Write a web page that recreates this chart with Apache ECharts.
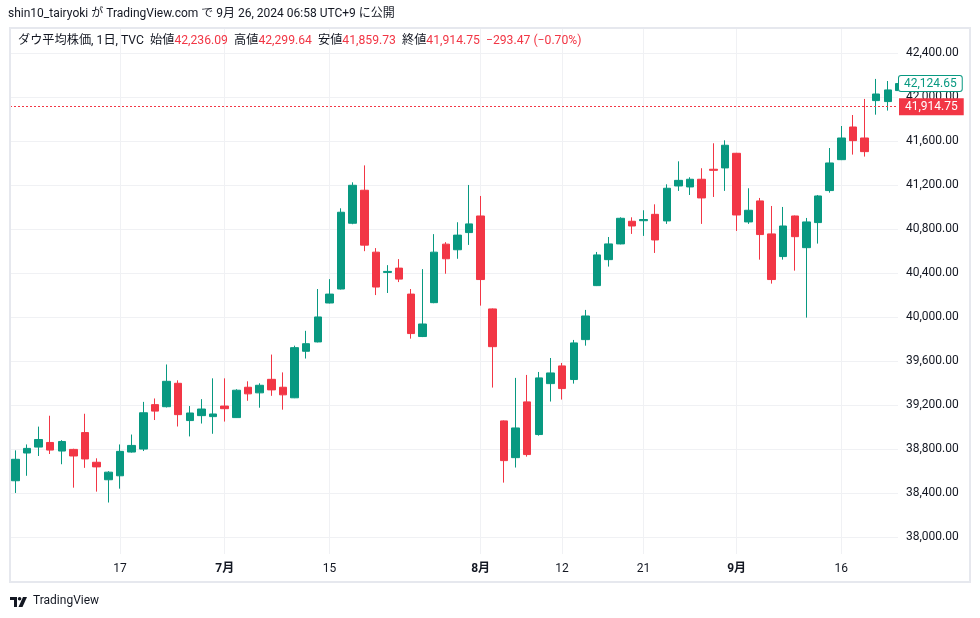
<!DOCTYPE html>
<html><head><meta charset="utf-8">
<script src="https://cdn.jsdelivr.net/npm/echarts@6/dist/echarts.min.js"></script>
<style>html,body{margin:0;padding:0;background:#fff;}#c{width:980px;height:618px;}</style>
</head><body><div id="c"></div>
<script>
// ---- data (Dow Jones Industrial Average, TVC, daily) ----
const dates = [
 '2024-06-04','2024-06-05','2024-06-06','2024-06-07','2024-06-10','2024-06-11','2024-06-12','2024-06-13','2024-06-14',
 '2024-06-17','2024-06-18','2024-06-20','2024-06-21','2024-06-24','2024-06-25','2024-06-26','2024-06-27','2024-06-28',
 '2024-07-01','2024-07-02','2024-07-03','2024-07-05','2024-07-08','2024-07-09','2024-07-10','2024-07-11','2024-07-12',
 '2024-07-15','2024-07-16','2024-07-17','2024-07-18','2024-07-19','2024-07-22','2024-07-23','2024-07-24','2024-07-25',
 '2024-07-26','2024-07-29','2024-07-30','2024-07-31','2024-08-01','2024-08-02','2024-08-05','2024-08-06','2024-08-07',
 '2024-08-08','2024-08-09','2024-08-12','2024-08-13','2024-08-14','2024-08-15','2024-08-16','2024-08-19','2024-08-20',
 '2024-08-21','2024-08-22','2024-08-23','2024-08-26','2024-08-27','2024-08-28','2024-08-29','2024-08-30','2024-09-03',
 '2024-09-04','2024-09-05','2024-09-06','2024-09-09','2024-09-10','2024-09-11','2024-09-12','2024-09-13','2024-09-16',
 '2024-09-17','2024-09-18','2024-09-19','2024-09-20','2024-09-23'
];
const openVals = [
 38514,38766,38820,38862,38784,38799,38952,38682,38523,
 38559,38775,38802,39206,39187,39400,39061,39106,39097,
 39193,39088,39364,39313,39436,39364,39268,39691,39776,
 40130,40257,40855,41155,40592,40408,40447,40211,39825,
 40133,40665,40614,40770,40921,40076,39058,38724,39231,
 38934,39397,39558,39434,39797,40288,40524,40667,40873,
 40878,40936,40876,41194,41185,41255,41346,41358,41491,
 40867,41058,40758,40552,40921,40633,40861,41152,41433,
 41730,41630,41970,41961,42061
];
const highVals = [
 38790,38844,39006,39105,38883,38805,39123,38718,38601,
 38844,38934,39231,39262,39571,39427,39193,39256,39445,
 39445,39346,39418,39400,39661,39499,39742,39877,40257,
 40347,40991,41227,41381,40629,40474,40529,40257,40438,
 40756,40683,40864,41203,41103,40080,39062,39449,39476,
 39503,39630,39585,39794,40067,40594,40730,40909,40909,
 40973,41027,41209,41418,41273,41355,41582,41609,41495,
 41173,41085,41012,41003,40925,40903,41112,41539,41739,
 41839,41985,42167,42148,42203
];
const lowVals = [
 38403,38559,38739,38757,38664,38451,38631,38415,38316,
 38442,38770,38784,39066,39180,39007,38917,39034,38941,
 39052,39085,39241,39178,39286,39160,39265,39625,39772,
 40126,40253,40846,40601,40202,40221,40320,39806,39820,
 40128,40396,40532,40658,40106,39361,38497,38634,38733,
 38924,39234,39252,39397,39742,40284,40461,40663,40758,
 40740,40585,40849,41149,41112,40849,41094,41149,40785,
 40849,40524,40306,40524,40424,39997,40670,41133,41429,
 41479,41461,41842,41879,42035
];
const closeVals = [
 38709,38808,38889,38793,38871,38739,38712,38640,38592,
 38781,38835,39132,39147,39418,39115,39130,39166,39121,
 39169,39337,39304,39382,39340,39295,39724,39760,40003,
 40211,40955,41200,40656,40275,40417,40347,39852,39939,
 40592,40532,40747,40849,40343,39733,38697,38994,38752,
 39449,39494,39352,39767,40012,40567,40667,40900,40830,
 40889,40703,41173,41245,41255,41085,41336,41564,40930,
 40973,40752,40343,40830,40733,40867,41103,41403,41630,
 41606,41506,42030,42067,42124.65
];
const xTickDates  = ['2024-06-17','2024-07-01','2024-07-15','2024-08-01','2024-08-12','2024-08-21','2024-09-03','2024-09-16'];
const xTickLabels = ['17','7月','15','8月','12','21','9月','16'];
const monthLabels = ['7月','8月','9月'];
const yTicks = [38000,38400,38800,39200,39600,40000,40400,40800,41200,41600,42000,42400];
const lastPrice = 41914.75;
const lastBarClose = 42124.65;
const headerText = 'shin10_tairyoki が TradingView.com で 9月 26, 2024 06:58 UTC+9 に公開';
const legendSymbol = 'ダウ平均株価, 1日, TVC';
const legendNames = ['始値','高値','安値','終値'];
const legendValues = ['42,236.09','42,299.64','41,859.73','41,914.75'];
const legendChange = '−293.47 (−0.70%)';

// ---- view settings ----
const FONT = 'Roboto, "Noto Sans CJK JP", sans-serif';
const UP = '#089981', DOWN = '#f23645', TXT = '#131722', GRID = '#f0f1f4';
const xMin = -0.456, xMax = 75.87, yMin = 37848, yMax = 42630;

function fmtPrice(v) {
  const s = Number(v).toFixed(2).split('.');
  return s[0].replace(/\B(?=(\d{3})+(?!\d))/g, ',') + '.' + s[1];
}
const xTickIdx = xTickDates.map(d => dates.indexOf(d));
const candleData = dates.map((d, i) => [i, openVals[i], closeVals[i], lowVals[i], highVals[i]]);

let legendRich = '{s|' + legendSymbol + '}';
legendNames.forEach((n, i) => { legendRich += '{s|  ' + n + '}{v|' + legendValues[i] + '}'; });
legendRich += '{v|  ' + legendChange + '}';

const LF = 12.2;
const chart = echarts.init(document.getElementById('c'), null, {renderer: 'canvas'});
chart.setOption({
  animation: false,
  backgroundColor: '#fff',
  title: [
    {text: headerText, left: 8, top: 8, padding: 0,
     textStyle: {fontFamily: FONT, fontSize: 12, fontWeight: 'normal', color: TXT}},
    {text: legendRich, left: 18, top: 35, padding: 0,
     textStyle: {fontFamily: FONT, fontSize: LF, fontWeight: 'normal', rich: {
       s: {fontFamily: FONT, fontSize: LF, fontWeight: 'normal', color: TXT},
       v: {fontFamily: FONT, fontSize: LF, fontWeight: 'normal', color: DOWN}
     }}}
  ],
  grid: {left: 10, top: 28, width: 888, height: 526, containLabel: false, outerBoundsMode: 'none'},
  xAxis: {
    type: 'value', min: xMin, max: xMax,
    axisLine: {show: false},
    axisTick: {show: false, customValues: xTickIdx},
    axisLabel: {
      customValues: xTickIdx, margin: 9, color: TXT, fontSize: 12, fontFamily: FONT,
      formatter: v => {
        const k = xTickIdx.indexOf(v);
        if (k < 0) return '';
        const t = xTickLabels[k];
        return monthLabels.indexOf(t) >= 0 ? '{m|' + t + '}' : t;
      },
      rich: {m: {fontWeight: 'bold', fontSize: 12, fontFamily: FONT, color: TXT}}
    },
    splitLine: {show: true, lineStyle: {color: GRID, width: 1}}
  },
  yAxis: [
    { // price scale used by the candles: grid lines only
      type: 'value', position: 'right', min: yMin, max: yMax,
      axisLine: {show: false},
      axisTick: {show: false, customValues: yTicks},
      axisLabel: {show: false, customValues: yTicks},
      splitLine: {show: true, lineStyle: {color: GRID, width: 1}}
    },
    { // same scale, labels only, drawn above the price-scale background
      type: 'value', position: 'right', min: yMin, max: yMax, z: 3,
      axisLine: {show: false},
      axisTick: {show: false, customValues: yTicks},
      axisLabel: {customValues: yTicks, margin: 8, color: TXT, fontSize: 12, fontFamily: FONT, formatter: fmtPrice},
      splitLine: {show: false}
    }
  ],
  series: [{
    type: 'candlestick',
    yAxisIndex: 0,
    z: 1,
    data: candleData,
    barWidth: 8,
    clip: true,
    itemStyle: {color: UP, color0: DOWN, borderColor: UP, borderColor0: DOWN, borderWidth: 1},
    markLine: {
      silent: true, symbol: ['none', 'none'], animation: false,
      data: [
        {yAxis: lastPrice,
         lineStyle: {color: DOWN, type: [2, 2], width: 1},
         label: {show: true, position: 'end', distance: 1, formatter: fmtPrice(lastPrice),
                 color: '#fff', backgroundColor: DOWN, padding: [3, 6, 2, 6],
                 fontSize: 12, fontFamily: FONT}},
        {yAxis: lastBarClose,
         lineStyle: {color: 'rgba(0,0,0,0)', width: 1},
         label: {show: true, position: 'end', distance: 1, formatter: fmtPrice(lastBarClose),
                 color: UP, backgroundColor: '#fff', borderColor: UP, borderWidth: 1, borderRadius: 2,
                 padding: [2, 5, 1, 5], fontSize: 12, fontFamily: FONT}}
      ]
    }
  }],
  graphic: [
    // price-scale area: hides the part of the last candle that runs past the plot edge
    {type: 'rect', z: 2, silent: true, shape: {x: 898.5, y: 29, width: 70.5, height: 524},
     style: {fill: '#fff'}},
    {type: 'rect', z: 100, silent: true, shape: {x: 10, y: 28, width: 960, height: 554},
     style: {fill: 'none', stroke: '#e6e8ee', lineWidth: 2}},
    {type: 'group', left: 10, top: 597, children: [
      {type: 'rect', shape: {x: 0, y: 0, width: 7, height: 3}, style: {fill: TXT}},
      {type: 'rect', shape: {x: 4, y: 0, width: 3, height: 10}, style: {fill: TXT}},
      {type: 'circle', shape: {cx: 9.6, cy: 1.8, r: 1.8}, style: {fill: TXT}},
      {type: 'polygon', shape: {points: [[13, 0], [17, 0], [12.5, 10], [8.5, 10]]}, style: {fill: TXT}}
    ]},
    {type: 'text', left: 33, top: 595, style: {text: 'TradingView', fill: TXT, font: '12px ' + FONT}}
  ]
});
</script>
</body></html>
